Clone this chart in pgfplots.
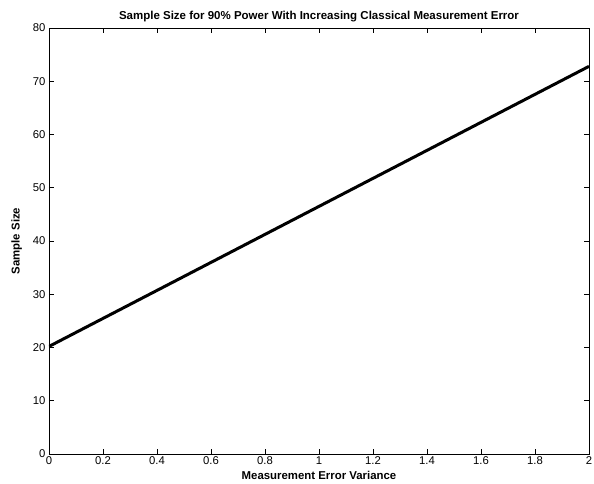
\documentclass[border=0pt]{standalone}
\usepackage{fontspec}
\setmainfont{Liberation Sans}
\usepackage{pgfplots}
\pgfplotsset{compat=1.18}
\begin{document}
\begin{tikzpicture}[x=1pt,y=1pt]
\begin{axis}[
  at={(0,0)}, anchor=south west,
  scale only axis,
  width=540pt, height=426pt,
  xmin=0, xmax=2, ymin=0, ymax=80,
  xtick={0,0.2,...,2}, ytick={0,10,...,80},
  xticklabels={0,0.2,0.4,0.6,0.8,1,1.2,1.4,1.6,1.8,2},
  tick align=inside, tick pos=both,
  major tick length=5pt,
  tick style={black, line width=0.6pt},
  axis line style={line width=0.8pt},
  /pgf/number format/assume math mode=true,
  tick label style={font=\fontsize{11.3}{13}\selectfont},
  xlabel={\textbf{Measurement Error Variance}},
  ylabel={\textbf{Sample Size}},
  label style={font=\fontsize{11.4}{13}\selectfont},
  xlabel style={yshift=0pt},
  ylabel style={yshift=4pt},
  title={\textbf{Sample Size for 90\% Power With Increasing Classical Measurement Error}},
  title style={font=\fontsize{11.5}{13}\selectfont, yshift=-3pt},
  xticklabel style={yshift=1pt},
]
\addplot[black, line width=3pt] coordinates {(0,20.2) (2,72.8)};
\end{axis}
\pgfresetboundingbox
\useasboundingbox (-49,-30) rectangle (545,454);
\end{tikzpicture}
\end{document}
